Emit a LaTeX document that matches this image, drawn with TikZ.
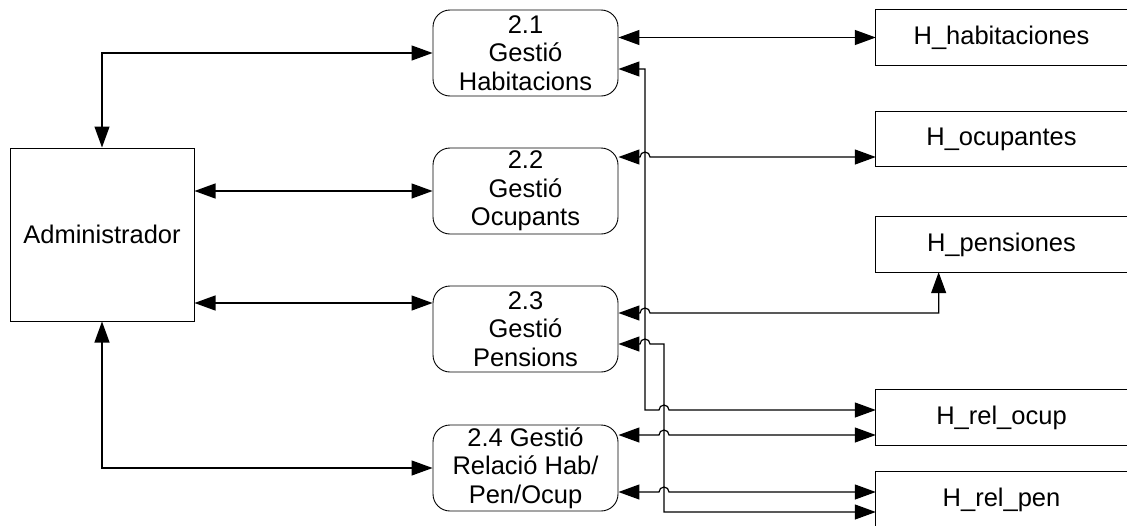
\documentclass[tikz,border=0pt]{standalone}
\usepackage{fontspec}
\setmainfont{Liberation Sans}
\usetikzlibrary{arrows.meta,calc}

\begin{document}
\begin{tikzpicture}[x=1pt,y=-1pt,
  proc/.style={draw,line width=0.9pt,rounded corners=17pt,minimum width=185pt,minimum height=86pt,inner sep=0pt,align=center,font=\fontsize{25.5}{28.5}\selectfont},
  extern/.style={draw,line width=1pt,minimum width=184pt,minimum height=173pt,inner sep=0pt,font=\fontsize{25.5}{28.5}\selectfont},
  store/.style={minimum width=251pt,minimum height=55pt,inner sep=0pt,font=\fontsize{25.5}{28.5}\selectfont},
  link/.style={line width=1.2pt,{Triangle[length=21pt,width=15pt]}-{Triangle[length=21pt,width=15pt]}}]
\useasboundingbox (0,0) rectangle (1129,525);
\node[extern] (admin) at (102,234.5) {Administrador};
\node[proc] (p21) at (525.5,53) {2.1\\Gestió\\Habitacions};
\node[proc] (p22) at (525.5,191) {2.2\\Gestió\\Ocupants};
\node[proc] (p23) at (525.5,329) {2.3\\Gestió\\Pensions};
\node[proc] (p24) at (525.5,468) {2.4 Gestió\\Relació Hab/\\Pen/Ocup};
\node[store] (hhab) at (1001.5,37.5) {H\_habitaciones};
\node[store] (hocu) at (1001.5,139) {H\_ocupantes};
\node[store] (hpen) at (1001.5,244.5) {H\_pensiones};
\node[store] (hrocup) at (1001.5,417.5) {H\_rel\_ocup};
\node[store] (hrpen) at (1001.5,499.5) {H\_rel\_pen};
\foreach \s in {hhab,hocu,hpen,hrocup,hrpen}
  \draw[line width=1pt] (\s.north east) -| (\s.south west) -- (\s.south east);
\coordinate (busA) at (645,0);
\coordinate (busB) at (664,0);
\draw[link] (admin.north) |- (p21.west);
\draw[link] (admin.east |- p22.west) -- (p22.west);
\draw[link] (admin.east |- 0,303) -- (p23.west |- 0,303);
\draw[link] (admin.south) |- (p24.west);
\draw[link] (p21.east |- hhab.west) -- (hhab.west);
\draw[link] (p21.east |- 0,69) -- (busA |- 0,69) -- (busA |- 0,410) -- ($(busB |- 0,410)+(-5,0)$) arc[start angle=180,end angle=360,radius=5] -- (hrocup.west |- 0,410);
\draw[link] (p22.east |- 0,157) -- ($(busA |- 0,157)+(-5,0)$) arc[start angle=180,end angle=360,radius=5] -- (hocu.west |- 0,157);
\draw[link] (p23.east |- 0,313) -- ($(busA |- 0,313)+(-5,0)$) arc[start angle=180,end angle=360,radius=5] -| ($(hpen.south west)!0.25!(hpen.south east)$);
\draw[link] (p23.east |- 0,344) -- ($(busA |- 0,344)+(-5,0)$) arc[start angle=180,end angle=360,radius=5] -- (busB |- 0,344) -- (busB |- 0,512) -- (hrpen.west |- 0,512);
\draw[link] (p24.east |- 0,435) -- ($(busB |- 0,435)+(-5,0)$) arc[start angle=180,end angle=360,radius=5] -- (hrocup.west |- 0,435);
\draw[link] (p24.east |- 0,492) -- ($(busB |- 0,492)+(-5,0)$) arc[start angle=180,end angle=360,radius=5] -- (hrpen.west |- 0,492);
\end{tikzpicture}
\end{document}
